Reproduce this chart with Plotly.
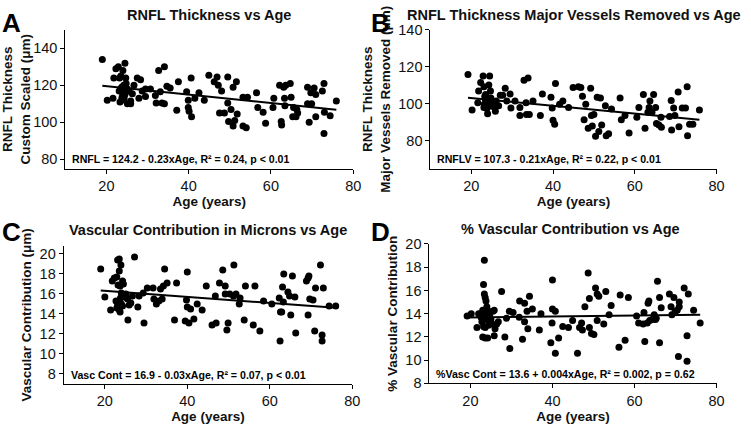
import plotly.graph_objects as go
import numpy as np

# ---------------- DATA ----------------
age_a = [19.0,20.2,21.6,21.8,22.3,22.9,23.5,23.2,23.7,23.1,24.0,24.5,24.7,23.3,23.7,24.3,24.7,25.1,23.9,25.1,
         25.9,25.9,26.3,26.7,27.5,28.3,27.9,28.7,29.5,29.5,30.7,31.9,32.1,32.7,34.1,33.1,33.5,34.1,34.7,35.5,
         37.1,37.5,39.5,39.9,39.9,40.1,40.7,40.6,41.5,42.5,43.8,44.9,46.2,46.9,47.2,48.0,47.5,48.7,49.5,49.5,
         49.7,50.3,50.8,51.6,51.8,51.2,50.8,53.2,54.0,53.2,54.3,56.5,56.8,58.1,58.7,60.5,60.7,62.1,62.5,62.6,
         63.1,63.3,63.4,63.6,64.7,64.9,65.5,65.3,66.1,66.3,66.5,68.9,68.9,69.3,69.7,69.9,70.5,70.9,70.9,72.5,
         72.9,72.9,73.0,74.4,75.9,23.5,24.0,24.5,24.2,23.8,25.5,24.8]
rnfl_a = [134,112,113,124,129,130,125,124,119,117,128,132,124,111,112,113,116.5,118,116,110,
          111.5,110,115.5,120,124,123,113,117,114,118,118,114.5,110.5,128,130,116.5,110.5,110,119.5,118.5,
          106.5,122,116.5,112,108,106,103,124,113,116,112,125.5,122,124.5,120,117,105,105,124.5,110.5,
          100.5,107,119,122,104.5,101,98,98,97,113.5,113.5,116,108,105.5,99.5,108,113,120,100.5,98.5,
          119,113,109,120,121,113.5,108,103,103,107,105,119,110,100,116,110,118.5,115,103,117,
          121,94,105.5,103.5,111.5,118,117,115,120,113.5,117,121]

age_b = [19.2,20.2,21.6,21.8,22.3,22.9,23.1,23.5,23.2,23.7,23.9,24.0,24.3,24.5,24.7,24.8,25.1,23.1,24.3,25.9,
         26.1,26.7,27.1,27.7,28.3,28.7,29.5,29.7,30.7,31.9,31.9,32.9,33.9,33.4,33.5,34.2,35.1,36.9,37.4,39.5,
         39.8,40.0,40.4,40.6,41.6,42.4,43.8,44.9,46.2,46.8,47.2,47.6,48.0,48.6,49.2,49.4,49.6,50.0,50.4,50.8,
         51.2,51.6,51.9,52.8,53.0,53.6,54.3,56.4,56.7,57.6,58.6,60.5,61.0,62.1,62.5,63.2,63.5,63.7,64.2,64.6,
         65.1,65.3,65.9,66.4,66.5,68.5,68.9,69.0,69.5,69.8,70.6,70.8,71.6,72.4,72.8,72.9,73.4,74.2,75.8,
         23.5,24.0,24.5,23.8,24.8,23.3,25.3]
rnflv_b = [115.9,96.6,100.6,107,111.6,115,109.3,105,99.8,101.5,98,94.6,110.2,115,107,103.2,99.8,98,99,96,
           101.5,99,104.6,104.6,108.4,101.5,105.3,97.7,101.5,98,93.7,112.8,114,100.6,94.2,94.2,101.5,93.7,105.3,103.6,
           97.7,91.1,89,111,99.8,101.5,98,108.8,109.3,108.8,104.1,91.4,99.8,86.8,108.4,93.7,88,94.2,82.4,103.6,
           85,103.2,88.5,99,82.8,83.8,97.2,103.2,91.4,93.7,84.2,92.8,98,105,86.8,95.4,98,101.5,95.4,105,
           98,89.4,88.5,92.8,87.3,93.2,101.8,85.9,97.7,93.7,106.4,87.6,97.7,97.7,109.3,82.8,89,89,96.6,
           102,100.5,103,97.5,101,104,98.5]

age_c = [19.0,20.0,21.4,21.8,22.3,22.9,23.1,23.5,23.5,23.9,23.2,23.7,24.0,24.3,24.5,22.7,23.1,23.5,23.7,24.0,
         24.7,25.1,25.5,25.9,25.6,26.3,26.7,27.2,28.0,28.3,29.5,29.3,30.3,31.7,31.9,32.5,33.1,33.5,33.9,34.2,
         34.5,35.1,36.9,37.4,40.0,39.8,40.0,39.5,40.4,40.8,41.6,42.4,43.6,44.6,46.0,46.8,47.0,47.8,48.6,49.2,
         49.2,49.6,49.9,50.3,51.2,51.3,51.8,52.6,52.8,53.8,54.1,56.0,56.4,57.6,58.5,60.5,62.3,62.5,62.6,62.9,
         63.1,63.3,63.4,64.4,64.8,65.1,65.5,66.1,66.3,68.9,69.3,69.5,69.3,69.7,70.5,70.9,71.1,72.3,72.7,72.7,
         73.0,74.4,76.0,23.8,24.3,22.9]
vasc_c = [18.5,15.7,14.4,17.3,17.6,17.7,19.4,19.5,18.3,18.9,16.9,16.8,16.1,17.3,17.0,15.3,14.9,14.4,14.2,15.0,
          15.7,16.0,15.5,14.9,13.4,15.1,15.8,19.7,14.7,15.8,13.1,16.1,16.6,16.6,15.5,15.0,15.3,16.5,15.5,16.8,
          18.5,17.1,13.4,17.1,18.2,15.4,14.7,13.3,13.1,14.5,13.5,15.0,14.4,16.8,12.9,15.8,13.1,17.1,18.4,16.8,
          16.0,12.4,13.1,16.0,15.8,18.9,16.0,15.0,15.6,13.4,16.8,12.9,16.8,12.3,15.3,15.0,15.6,11.3,14.2,14.2,
          16.7,15.2,18.0,16.2,15.8,13.9,17.8,15.7,12.1,17.3,17.6,17.8,13.9,15.5,15.4,12.3,16.6,18.9,11.9,11.3,
          16.6,14.8,14.8,15.6,14.8,14.6]

age_d = [19.2,20.2,21.6,22.0,22.6,23.0,23.4,23.2,23.4,23.6,23.8,24.0,24.2,23.6,22.8,23.2,23.6,23.0,23.6,24.2,
         24.7,25.0,25.2,25.5,25.8,26.0,25.8,26.4,26.8,27.6,28.4,28.8,29.5,29.6,30.4,32.0,31.9,32.7,33.2,33.2,
         33.8,34.0,34.4,35.1,36.8,37.2,39.6,39.9,40.0,40.0,40.7,40.7,41.5,42.5,43.9,44.9,46.1,46.6,47.1,47.3,
         47.9,48.7,49.0,49.0,49.5,50.1,50.5,50.9,50.9,51.3,52.5,53.0,53.8,54.3,56.5,56.2,57.7,58.5,60.5,61.0,
         62.1,62.3,62.5,63.1,63.3,63.5,63.7,64.3,64.8,65.1,65.3,65.6,66.1,66.1,66.5,68.5,68.9,69.1,69.6,69.9,
         70.4,70.7,70.9,70.9,72.1,72.8,73.1,72.8,74.4,76.0,23.9,24.4,23.3]
pvasc_d = [13.8,14.0,12.8,14.0,13.7,14.3,18.6,16.5,15.7,15.4,15.1,14.6,14.3,14.1,13.3,12.9,12.8,12.0,11.9,11.9,
           13.8,13.5,13.1,14.2,14.3,12.7,12.1,13.1,13.3,15.9,12.0,13.6,14.2,11.0,14.1,15.1,13.7,11.8,14.9,13.3,
           14.2,12.7,15.5,14.4,12.6,14.0,11.5,13.2,16.9,14.4,14.2,10.6,11.9,12.9,12.8,13.4,10.6,12.8,13.2,12.6,
           14.6,17.5,15.3,12.8,12.3,12.2,16.2,15.7,13.4,15.5,13.1,15.9,13.9,14.7,15.6,11.1,11.7,15.4,13.8,13.2,
           13.1,14.1,11.6,13.2,14.9,15.1,13.4,13.5,13.9,13.5,13.6,16.8,15.4,11.5,14.5,15.7,14.6,13.9,15.4,14.2,
           14.3,10.3,15.0,14.6,16.2,12.1,15.7,9.9,14.3,13.2,13.5,13.0,13.9]

# regression coefficients (intercept, slope)
fit_a = (124.2, -0.23)
fit_b = (107.3, -0.21)
fit_c = (16.9, -0.03)
fit_d = (13.6, 0.004)

titles = ["RNFL Thickness vs Age", "RNFL Thickness Major Vessels Removed vs Age",
          "Vascular Contribution in Microns vs Age", "% Vascular Contribution vs Age"]
ytitles = ["RNFL Thickness<br>Custom Scaled (μm)", "RNFL Thickness<br>Major Vessels Removed (μm)",
           "Vascular Contribution (μm)", "% Vascular Contribution"]
eqs = ["RNFL = 124.2 - 0.23xAge, R² = 0.24, p < 0.01",
       "RNFLV = 107.3 - 0.21xAge, R² = 0.22, p < 0.01",
       "Vasc Cont = 16.9 - 0.03xAge, R² = 0.07, p < 0.01",
       "%Vasc Cont = 13.6 + 0.004xAge, R² = 0.002, p = 0.62"]
letters = ["A", "B", "C", "D"]
x_ticks = [20, 40, 60, 80]
y_ticks = [[80, 100, 120, 140], [80, 100, 120, 140], [8, 10, 12, 14, 16, 18, 20], [8, 10, 12, 14, 16, 18, 20]]
y_ranges = [[75, 150], [65, 140], [7, 20.8], [8, 20]]

W, H = 751, 434
FONT = "Arial, 'Liberation Sans', sans-serif"

# pixel boxes (left, right, top, bottom)
boxes = [(66, 357, 22.7, 166.7), (435, 724.3, 22.7, 166.7),
         (64.3, 356, 247, 390.3), (434, 724.3, 245, 389.7)]

fig = go.Figure()
datasets = [(age_a, rnfl_a, fit_a), (age_b, rnflv_b, fit_b), (age_c, vasc_c, fit_c), (age_d, pvasc_d, fit_d)]

annotations = []
for i, (ax, ay, fit) in enumerate(datasets):
    n = "" if i == 0 else str(i + 1)
    xa, ya = "x" + n, "y" + n
    fig.add_trace(go.Scatter(x=ax, y=ay, mode="markers", xaxis=xa, yaxis=ya,
                             marker=dict(size=7, color="black"), showlegend=False))
    xs = np.array([min(ax), max(ax)])
    fig.add_trace(go.Scatter(x=xs, y=fit[0] + fit[1] * xs, mode="lines", xaxis=xa, yaxis=ya,
                             line=dict(color="black", width=2), showlegend=False))
    l, r, t, b = boxes[i]
    fig.layout["xaxis" + n] = dict(domain=[l / W, r / W], range=[10, 80], tickvals=x_ticks,
                                   showline=True, linecolor="black", linewidth=1, ticks="outside",
                                   ticklen=4, tickcolor="black", showgrid=False, zeroline=False,
                                   anchor=ya, tickfont=dict(size=14.5, color="#111", family=FONT),
                                   title=dict(text="<b>Age (years)</b>", font=dict(size=13.5, family=FONT, color="#111"),
                                              standoff=2))
    fig.layout["yaxis" + n] = dict(domain=[1 - b / H, 1 - t / H], range=y_ranges[i], tickvals=y_ticks[i],
                                   showline=True, linecolor="black", linewidth=1, ticks="outside",
                                   ticklen=4, tickcolor="black", showgrid=False, zeroline=False,
                                   anchor=xa, tickfont=dict(size=14.5, color="#111", family=FONT),
                                   title=dict(text="<b>" + ytitles[i] + "</b>", font=dict(size=13.5, family=FONT, color="#111"),
                                              standoff=4))
    annotations.append(dict(text="<b>" + eqs[i] + "</b>", xref=xa + " domain", yref=ya + " domain",
                            x=0.017, y=0.01, xanchor="left", yanchor="bottom", showarrow=False,
                            font=dict(size=10.6, family=FONT, color="black")))

title_pos = [(211, 7), (580, 7), (210, 230), (577, 229)]
for (cx, cy), t in zip(title_pos, titles):
    annotations.append(dict(text="<b>" + t + "</b>", xref="paper", yref="paper", x=cx / W, y=1 - cy / H,
                            xanchor="center", yanchor="middle", showarrow=False,
                            font=dict(size=14.5, family=FONT, color="#111")))
letter_pos = [(0, -2), (373, -2), (0, 215), (373, 215)]
for (lx, ly), t in zip(letter_pos, letters):
    annotations.append(dict(text="<b>" + t + "</b>", xref="paper", yref="paper", x=lx / W, y=1 - ly / H,
                            xanchor="left", yanchor="top", showarrow=False,
                            font=dict(size=26, family=FONT, color="black")))

fig.update_layout(width=W, height=H, margin=dict(l=0, r=0, t=0, b=0),
                  paper_bgcolor="white", plot_bgcolor="white", annotations=annotations,
                  font=dict(family=FONT))
fig.write_html("out.html", config={"displayModeBar": False},
               post_script="document.body.style.margin='0';document.body.style.overflow='hidden';")
